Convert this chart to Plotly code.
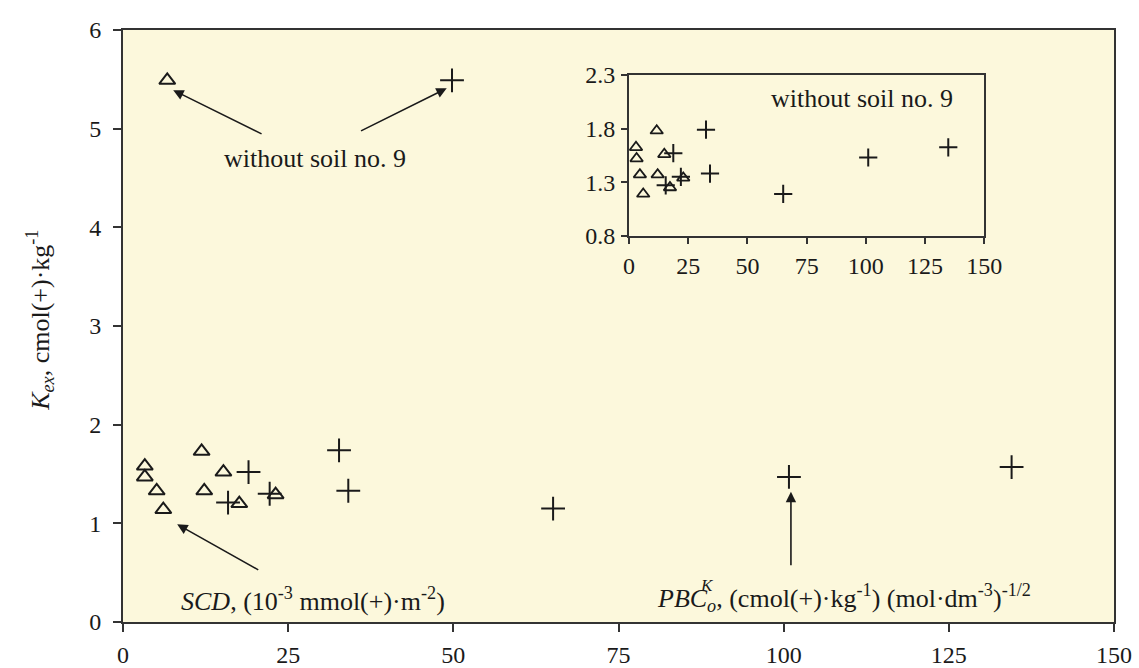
import plotly.graph_objects as go

# ---- data ----
scd_x = [3.3, 3.3, 5.1, 6.1, 11.9, 12.3, 15.2, 17.6, 23.1, 6.7]
scd_y = [1.58, 1.47, 1.33, 1.14, 1.73, 1.33, 1.52, 1.20, 1.29, 5.49]
pbc_x = [15.9, 19.0, 22.2, 32.7, 34.1, 65.1, 100.8, 134.5, 49.8]
pbc_y = [1.21, 1.52, 1.30, 1.74, 1.33, 1.15, 1.47, 1.57, 5.49]

# inset: without soil no. 9
scd9_x = [2.95, 3.2, 4.6, 6.0, 11.7, 12.1, 14.9, 17.3, 22.9]
scd9_y = [1.625, 1.52, 1.37, 1.19, 1.78, 1.37, 1.56, 1.25, 1.34]
pbc9_x = [15.5, 18.7, 21.9, 32.5, 34.2, 65.1, 101.0, 134.8]
pbc9_y = [1.27, 1.57, 1.35, 1.79, 1.38, 1.19, 1.53, 1.625]

x_ticks = [0, 25, 50, 75, 100, 125, 150]
y_ticks = [0, 1, 2, 3, 4, 5, 6]
y2_ticks = [0.8, 1.3, 1.8, 2.3]

FONT = "Liberation Serif"
INK = "#1a1a1a"
LINE = "#333333"
BG = "#fcf8dc"

fig = go.Figure()

tri = dict(symbol="triangle-up-open", size=14, color=INK, line=dict(width=2, color=INK))
plus = dict(symbol="cross-thin-open", size=17, color=INK, line=dict(width=2, color=INK))
tri_s = dict(symbol="triangle-up-open", size=11, color=INK, line=dict(width=1.8, color=INK))
plus_s = dict(symbol="cross-thin-open", size=13, color=INK, line=dict(width=2, color=INK))

fig.add_trace(go.Scatter(x=scd_x, y=scd_y, mode="markers", marker=tri, showlegend=False))
fig.add_trace(go.Scatter(x=pbc_x, y=pbc_y, mode="markers", marker=plus, showlegend=False))
fig.add_trace(go.Scatter(x=scd9_x, y=scd9_y, mode="markers", marker=tri_s, showlegend=False,
                         xaxis="x2", yaxis="y2"))
fig.add_trace(go.Scatter(x=pbc9_x, y=pbc9_y, mode="markers", marker=plus_s, showlegend=False,
                         xaxis="x2", yaxis="y2"))

axis_common = dict(showgrid=False, zeroline=False, showline=True, linecolor=LINE, linewidth=2,
                   mirror=True, ticks="outside", tickcolor=LINE, tickwidth=1.5,
                   automargin=False,
                   tickfont=dict(family=FONT, size=24, color=INK))

fig.update_layout(
    template="none",
    width=1139, height=668,
    margin=dict(l=123, r=25, t=30, b=46, pad=0),
    paper_bgcolor="white", plot_bgcolor=BG,
    font=dict(family=FONT, color=INK),
    xaxis=dict(range=[0, 150], tickvals=x_ticks, ticklen=8, ticklabelstandoff=2, **axis_common),
    yaxis=dict(range=[0, 6], tickvals=y_ticks, ticklen=8, ticklabelstandoff=7, **axis_common),
    xaxis2=dict(domain=[0.5106, 0.8691], anchor="y2", range=[0, 150], tickvals=x_ticks,
                ticklen=6, ticklabelstandoff=1, **axis_common),
    yaxis2=dict(domain=[0.6525, 0.924], anchor="x2", range=[0.8, 2.3], tickvals=y2_ticks,
                ticklen=6, ticklabelstandoff=1, tickformat=".1f", **axis_common),
)

# white inset background
fig.add_shape(type="rect", xref="x2 domain", yref="y2 domain", x0=0, x1=1, y0=0, y1=1,
              fillcolor="white", line=dict(width=0), layer="below")

ann_font = dict(family=FONT, size=26, color=INK)

# y-axis title
fig.add_annotation(xref="paper", yref="paper", x=-0.084, y=0.51, xanchor="center",
                   yanchor="middle", textangle=-90,
                   text="<i>K</i><sub><i>ex</i></sub>, cmol(+)·kg<sup>-1</sup>",
                   showarrow=False, font=ann_font)

# labels
fig.add_annotation(x=29.1, y=4.70, xref="x", yref="y", text="without soil no. 9",
                   showarrow=False, font=ann_font)
fig.add_annotation(x=98.5, y=2.08, xref="x2", yref="y2", text="without soil no. 9",
                   showarrow=False, font=ann_font)
fig.add_annotation(x=8.5, y=0.23, xref="x", yref="y", xanchor="left",
                   text="<i>SCD</i>, (10<sup>-3</sup> mmol(+)·m<sup>-2</sup>)",
                   showarrow=False, font=ann_font)
fig.add_annotation(x=80.5, y=0.24, xref="x", yref="y", xanchor="left",
                   text="<i>PBC</i><sub><i>o</i></sub>, (cmol(+)·kg<sup>-1</sup>) (mol·dm<sup>-3</sup>)<sup>-1/2</sup>",
                   showarrow=False, font=ann_font)
fig.add_annotation(x=87.0, y=0.37, xref="x", yref="y", xanchor="left",
                   text="<i>K</i>", showarrow=False, font=dict(family=FONT, size=17, color=INK))

# arrows
arrows = [
    (7.6, 5.39, 21.2, 4.94),
    (49.0, 5.41, 35.8, 4.97),
    (8.2, 0.99, 20.7, 0.52),
    (101.1, 1.32, 101.1, 0.56),
]
for hx, hy, tx, ty in arrows:
    fig.add_annotation(x=hx, y=hy, ax=tx, ay=ty, xref="x", yref="y", axref="x", ayref="y",
                       text="", showarrow=True, arrowhead=2, arrowsize=1.3, arrowwidth=1.6,
                       arrowcolor=INK)

fig.write_html("out.html", config={"displayModeBar": False},
               post_script="document.body.style.margin='0';")
